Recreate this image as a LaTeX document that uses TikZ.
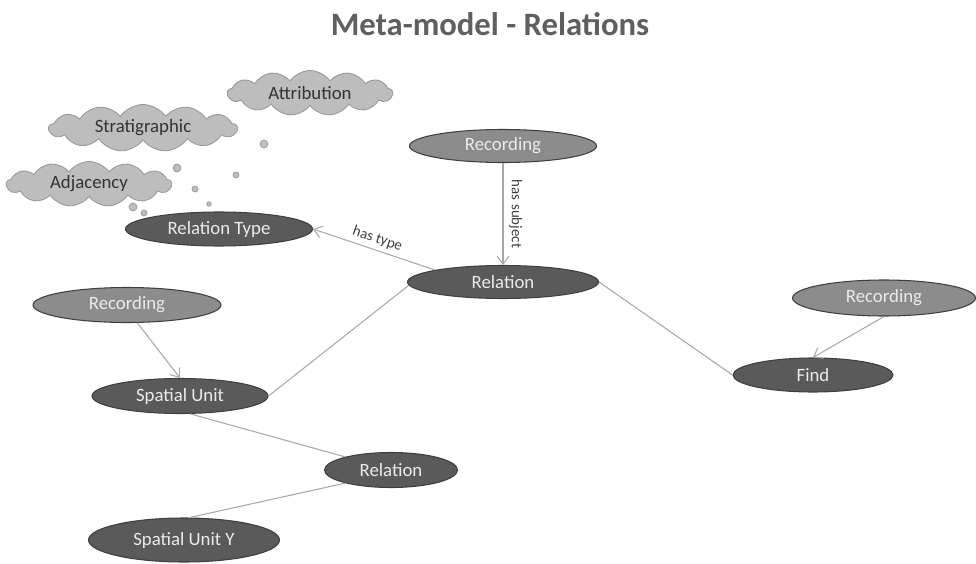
\documentclass[tikz,border=0pt]{standalone}
\usepackage{fontspec}
\setmainfont{Carlito}
\usetikzlibrary{shapes.geometric,shapes.symbols,arrows.meta}

\definecolor{darkfill}{HTML}{5A5A5A}
\definecolor{midfill}{HTML}{8C8C8C}
\definecolor{rimgray}{HTML}{3F3F3F}
\definecolor{cloudfill}{HTML}{BDBDBD}
\definecolor{linegray}{HTML}{A8A8A8}
\definecolor{titlegray}{HTML}{5F5F5F}

\tikzset{
  entity/.style={ellipse,draw=rimgray,fill=darkfill,line width=0.6pt,inner sep=0pt,
    text=white!92!black,font=\fontsize{10.7}{12}\selectfont},
  recbox/.style={entity,fill=midfill},
  reltype/.style={cloud,cloud puffs=13,cloud puff arc=110,cloud ignores aspect,
    draw=gray!80,fill=cloudfill,line width=0.5pt,inner sep=0pt,
    text=black!80,font=\fontsize{10.7}{12}\selectfont},
  bubble/.style={circle,draw=gray!80,fill=cloudfill,line width=0.4pt,inner sep=0pt},
  link/.style={draw=linegray,line width=0.6pt},
  edgelabel/.style={font=\fontsize{8.5}{10}\selectfont,text=black!75}
}

\begin{document}
\begin{tikzpicture}[x=0.2mm,y=-0.2mm,>={Straight Barb[length=1.6mm,width=2.4mm]}]
  \useasboundingbox (0,0) rectangle (976,564);

  % title
  \node (title) at (490,24) [text=titlegray,font=\fontsize{18.6}{22}\bfseries]
    {Meta-model - Relations};

  % relation types as thought clouds
  \node[reltype,minimum width=33mm,minimum height=9mm]   (attr)  at (310,93)  {Attribution};
  \node[reltype,minimum width=37.6mm,minimum height=9.4mm] (strat) at (143,128) {Stratigraphic};
  \node[reltype,minimum width=33mm,minimum height=9mm]   (adj)   at (89,184)  {Adjacency};

  % small bubbles between clouds and type
  \node[bubble,minimum size=1.6mm] (b1) at (264,144) {};
  \node[bubble,minimum size=1.6mm] (b2) at (177,168) {};
  \node[bubble,minimum size=1.2mm] (b3) at (236,175) {};
  \node[bubble,minimum size=1.2mm] (b4) at (195,189) {};
  \node[bubble,minimum size=0.9mm] (b5) at (209,204) {};
  \node[bubble,minimum size=1.6mm] (b6) at (133,207) {};
  \node[bubble,minimum size=1.2mm] (b7) at (144,213) {};

  % entities
  \node[recbox,minimum width=37.4mm,minimum height=6.6mm] (rectop) at (503,146) {Recording};
  \node[entity,minimum width=38.2mm,minimum height=6.6mm] (rel)    at (503,282) {Relation};
  \node[entity,minimum width=37.4mm,minimum height=6.8mm] (rtype)  at (219,229) {Relation Type};
  \node[recbox,minimum width=37.6mm,minimum height=7mm]   (recleft) at (127,305) {Recording};
  \node[entity,minimum width=35.2mm,minimum height=7mm]   (su)     at (180,396) {Spatial Unit};
  \node[recbox,minimum width=36.6mm,minimum height=7.2mm] (recright) at (884,298) {Recording};
  \node[entity,minimum width=32mm,minimum height=6.8mm]   (find)   at (813,375) {Find};
  \node[entity,minimum width=26.6mm,minimum height=7mm]   (relb)   at (391,470) {Relation};
  \node[entity,minimum width=38.2mm,minimum height=8.8mm] (suy)    at (184,540) {Spatial Unit Y};

  % connectors
  \draw[link,->] (rectop) -- (rel)
    node[midway,right=0pt,edgelabel,rotate=-90,anchor=south] {has subject};
  \draw[link,->] (rel.170) -- (rtype.east)
    node[midway,sloped,above=-1pt,edgelabel] {has type};
  \draw[link,->] (recleft.300) -- (su.north);
  \draw[link] (rel.182) -- (su.east);
  \draw[link] (rel.east) -- (find.west);
  \draw[link,->] (recright.south) -- (find.north);
  \draw[link] (su.300) -- (relb.164);
  \draw[link] (relb.196) -- (suy.76);
\end{tikzpicture}
\end{document}
